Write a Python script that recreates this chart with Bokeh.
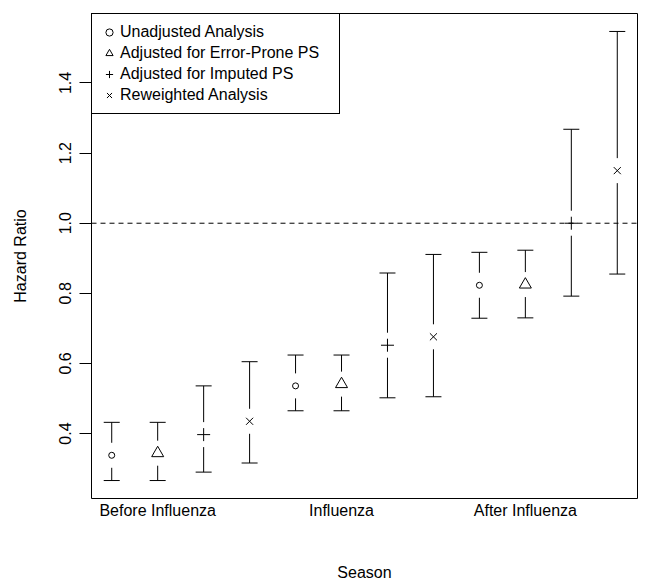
from bokeh.plotting import figure
from bokeh.models import (Range1d, FixedTicker, PrintfTickFormatter, Span, Legend,
                          LegendItem)
from bokeh.embed import file_html
from bokeh.resources import INLINE

# ---- data ----
positions = [1, 2, 3, 4, 5, 6, 7, 8, 9, 10, 11, 12]
methods = ["Unadjusted Analysis", "Adjusted for Error-Prone PS",
           "Adjusted for Imputed PS", "Reweighted Analysis"]
hazard_ratio = [0.338, 0.344, 0.397, 0.435, 0.536, 0.541, 0.652, 0.676, 0.823, 0.825, 1.000, 1.150]
ci_lower = [0.266, 0.266, 0.290, 0.316, 0.465, 0.465, 0.502, 0.505, 0.729, 0.730, 0.792, 0.855]
ci_upper = [0.432, 0.432, 0.536, 0.605, 0.624, 0.624, 0.858, 0.911, 0.917, 0.923, 1.268, 1.547]
season_ticks = [2, 6, 10]
season_labels = ["Before Influenza", "Influenza", "After Influenza"]
y_ticks = [0.4, 0.6, 0.8, 1.0, 1.2, 1.4]
reference_line = 1.0

# ---- style ----
FONT = "Liberation Sans"
FS = "16px"
W, H = 641, 585
BL, BR, BT, BB = 91, 4, 13, 87
frame_w = W - BL - BR
frame_h = H - BT - BB

# R-style 4% range extension
xs0, xs1 = min(positions), max(positions)
xpad = 0.04 * (xs1 - xs0)
x0, x1 = xs0 - xpad, xs1 + xpad
ys0, ys1 = min(ci_lower), max(ci_upper)
ypad = 0.04 * (ys1 - ys0)
y0, y1 = ys0 - ypad, ys1 + ypad

px_x = frame_w / (x1 - x0)
px_y = frame_h / (y1 - y0)
cap_half = 8 / px_x
gap = 12.5 / px_y

p = figure(width=W, height=H, output_backend="svg", toolbar_location=None,
           x_range=Range1d(x0, x1), y_range=Range1d(y0, y1),
           min_border_left=BL, min_border_right=BR, min_border_top=BT,
           min_border_bottom=BB, background_fill_color="white",
           border_fill_color="white")
p.xgrid.visible = False
p.ygrid.visible = False
p.outline_line_color = "black"
p.outline_line_width = 1
p.outline_line_alpha = 1

# dashed reference line
p.add_layout(Span(location=reference_line, dimension="width", line_color="black",
                  line_width=1, line_dash="5 4"))

# error bars with gap around point
seg_x, seg_y0, seg_y1 = [], [], []
cap_x0, cap_x1, cap_y = [], [], []
for xi, m, lo, hi in zip(positions, hazard_ratio, ci_lower, ci_upper):
    if hi > m + gap:
        seg_x.append(xi); seg_y0.append(m + gap); seg_y1.append(hi)
    if lo < m - gap:
        seg_x.append(xi); seg_y0.append(lo); seg_y1.append(m - gap)
    for c in (lo, hi):
        cap_x0.append(xi - cap_half); cap_x1.append(xi + cap_half); cap_y.append(c)
p.segment(x0=seg_x, y0=seg_y0, x1=seg_x, y1=seg_y1, line_color="black", line_width=1)
p.segment(x0=cap_x0, y0=cap_y, x1=cap_x1, y1=cap_y, line_color="black", line_width=1)

markers = ["circle", "triangle", "cross", "x"]
sizes = [6, 12, 13, 10]
items = []
for k, (name, mk, sz) in enumerate(zip(methods, markers, sizes)):
    xs = positions[k::4]
    ys = hazard_ratio[k::4]
    r = p.scatter(xs, ys, marker=mk, size=sz, fill_color=None,
                  line_color="black", line_width=1)
    items.append(LegendItem(label=name, renderers=[r]))

legend = Legend(items=items, location="top_left", margin=0, padding=8, spacing=1,
                glyph_width=18, glyph_height=20, label_height=20, label_width=211,
                label_standoff=2, label_text_font=FONT, label_text_font_size=FS,
                label_text_color="black", border_line_color="black",
                border_line_width=1, border_line_alpha=1,
                background_fill_color="white", background_fill_alpha=1)
p.add_layout(legend)

# x axis
xa = p.xaxis[0]
xa.ticker = FixedTicker(ticks=season_ticks)
xa.major_label_overrides = {t: l for t, l in zip(season_ticks, season_labels)}
xa.axis_line_color = None
xa.major_tick_line_color = None
xa.major_tick_out = 0
xa.major_tick_in = 0
xa.minor_tick_line_color = None
xa.major_label_standoff = 3
xa.major_label_text_font = FONT
xa.major_label_text_font_size = FS
xa.major_label_text_color = "black"
xa.axis_label = "Season"
xa.axis_label_text_font = FONT
xa.axis_label_text_font_size = FS
xa.axis_label_text_font_style = "normal"
xa.axis_label_text_color = "black"
xa.axis_label_standoff = 42

# y axis
ya = p.yaxis[0]
ya.ticker = FixedTicker(ticks=y_ticks)
ya.formatter = PrintfTickFormatter(format="%.1f")
ya.axis_line_color = None
ya.major_tick_line_color = "black"
ya.major_tick_out = 12
ya.major_tick_in = 0
ya.minor_tick_line_color = None
ya.major_label_orientation = "vertical"
ya.major_label_standoff = 8
ya.major_label_text_font = FONT
ya.major_label_text_font_size = FS
ya.major_label_text_color = "black"
ya.axis_label = "Hazard Ratio"
ya.axis_label_text_font = FONT
ya.axis_label_text_font_size = FS
ya.axis_label_text_font_style = "normal"
ya.axis_label_text_color = "black"
ya.axis_label_standoff = 28

open("out.html", "w").write(file_html(p, INLINE))
